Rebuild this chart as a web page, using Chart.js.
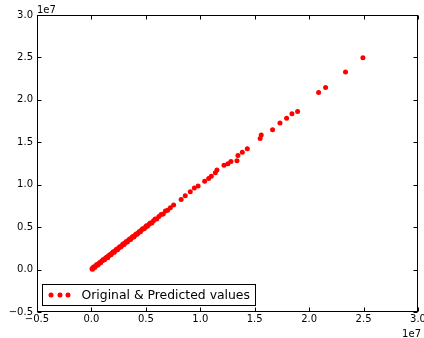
<!DOCTYPE html>
<html><head><meta charset="utf-8">
<script src="https://cdn.jsdelivr.net/npm/chart.js@4/dist/chart.umd.min.js"></script>
<style>html,body{margin:0;padding:0;background:#fff}#wrap{width:424px;height:338px}</style>
</head><body><div id="wrap"><canvas id="c" width="424" height="338"></canvas></div>
<script>
const seriesLabel = 'Original & Predicted values';
const axisMin = -5e6, axisMax = 3e7;
const xTicks = [-5e6, 0, 5e6, 1e7, 1.5e7, 2e7, 2.5e7, 3e7];
const yTicks = [-5e6, 0, 5e6, 1e7, 1.5e7, 2e7, 2.5e7, 3e7];
const tickLabels = ['\u22120.5', '0.0', '0.5', '1.0', '1.5', '2.0', '2.5', '3.0'];
const offsetText = '1e7';
const xValues = [
  0.05e6, 0.1e6, 0.15e6, 0.2e6, 0.3e6, 0.35e6, 0.45e6, 0.5e6, 0.6e6, 0.7e6,
  0.8e6, 0.85e6, 0.95e6, 1.05e6, 1.1e6, 1.2e6, 1.3e6, 1.4e6, 1.5e6, 1.55e6,
  1.65e6, 1.75e6, 1.8e6, 1.9e6, 2.0e6, 2.1e6, 2.2e6, 2.3e6, 2.4e6, 2.5e6,
  2.6e6, 2.7e6, 2.8e6, 2.9e6, 3.0e6, 3.1e6, 3.2e6, 3.3e6, 3.4e6, 3.5e6,
  3.6e6, 3.7e6, 3.8e6, 3.9e6, 4.0e6, 4.1e6, 4.2e6, 4.3e6, 4.4e6, 4.5e6,
  4.6e6, 4.7e6, 4.85e6, 4.95e6, 5.05e6, 5.15e6, 5.3e6, 5.4e6, 5.55e6, 5.7e6,
  5.85e6, 6.0e6, 6.2e6, 6.4e6, 6.6e6, 6.8e6, 7.0e6, 7.25e6,
  7.55e6, 8.24e6, 8.62e6, 9.08e6, 9.45e6, 9.8e6, 10.4e6, 10.77e6, 11.01e6, 11.38e6,
  11.53e6, 12.18e6, 12.54e6, 12.82e6, 13.37e6, 13.46e6, 13.86e6, 14.32e6, 15.5e6, 15.6e6,
  16.64e6, 17.32e6, 17.93e6, 18.42e6, 18.94e6, 20.87e6, 21.51e6, 23.34e6, 24.94e6
];
const yValues = [
  0.1e6, 0.05e6, 0.2e6, 0.3e6, 0.25e6, 0.4e6, 0.5e6, 0.6e6, 0.55e6, 0.75e6,
  0.85e6, 0.8e6, 1.0e6, 1.1e6, 1.2e6, 1.15e6, 1.35e6, 1.45e6, 1.4e6, 1.6e6,
  1.7e6, 1.8e6, 1.75e6, 1.95e6, 2.1e6, 2.05e6, 2.25e6, 2.4e6, 2.35e6, 2.55e6,
  2.7e6, 2.65e6, 2.85e6, 3.0e6, 2.95e6, 3.15e6, 3.3e6, 3.25e6, 3.45e6, 3.6e6,
  3.55e6, 3.75e6, 3.9e6, 3.85e6, 4.05e6, 4.2e6, 4.15e6, 4.35e6, 4.5e6, 4.45e6,
  4.65e6, 4.8e6, 4.8e6, 5.0e6, 5.15e6, 5.1e6, 5.35e6, 5.5e6, 5.5e6, 5.75e6,
  5.95e6, 5.95e6, 6.25e6, 6.5e6, 6.55e6, 6.9e6, 7.0e6, 7.3e6,
  7.6e6, 8.27e6, 8.69e6, 9.17e6, 9.6e6, 9.84e6, 10.4e6, 10.74e6, 11.01e6, 11.4e6,
  11.72e6, 12.28e6, 12.47e6, 12.75e6, 12.82e6, 13.45e6, 13.84e6, 14.23e6, 15.46e6, 15.85e6,
  16.47e6, 17.26e6, 17.82e6, 18.36e6, 18.64e6, 20.88e6, 21.47e6, 23.28e6, 24.97e6
];

const FONT = 'DejaVu Sans';
const tickLabel = (v) => { const i = xTicks.indexOf(v); return i >= 0 ? tickLabels[i] : ''; };

const framePlugin = {
  id: 'frame',
  afterDraw(chart) {
    const ctx = chart.ctx, a = chart.chartArea, xs = chart.scales.x, ys = chart.scales.y;
    ctx.save();
    ctx.strokeStyle = '#000'; ctx.lineWidth = 1;
    const L = Math.round(a.left) + 0.5, R = Math.round(a.right) - 0.5;
    const T = Math.round(a.top) + 0.5, B = Math.round(a.bottom) - 0.5;
    ctx.strokeRect(L, T, R - L, B - T);
    const tl = 4;
    ctx.beginPath();
    xTicks.forEach(v => {
      const px = Math.round(xs.getPixelForValue(v)) + 0.5;
      ctx.moveTo(px, B); ctx.lineTo(px, B - tl);
      ctx.moveTo(px, T); ctx.lineTo(px, T + tl);
    });
    yTicks.forEach(v => {
      const py = Math.round(ys.getPixelForValue(v)) + 0.5;
      ctx.moveTo(L, py); ctx.lineTo(L + tl, py);
      ctx.moveTo(R, py); ctx.lineTo(R - tl, py);
    });
    ctx.stroke();
    // offset texts
    ctx.fillStyle = '#000';
    ctx.font = '10px "' + FONT + '"';
    ctx.textBaseline = 'alphabetic';
    ctx.textAlign = 'left';
    ctx.fillText(offsetText, a.left, a.top - 2);
    ctx.textAlign = 'right';
    ctx.fillText(offsetText, a.right + 3, chart.height - 1.5);
    // legend
    const lx = Math.round(a.left) + 5.5, ly = Math.round(a.bottom) - 27.5;
    const lw = 213, lh = 21;
    ctx.fillStyle = '#fff';
    ctx.fillRect(lx, ly, lw, lh);
    ctx.strokeStyle = '#000';
    ctx.strokeRect(lx, ly, lw, lh);
    const ds = chart.data.datasets[0];
    ctx.fillStyle = ds.backgroundColor;
    [8.5, 17.5, 25.5].forEach(dx => {
      ctx.beginPath(); ctx.arc(lx + dx, ly + lh / 2, 2.5, 0, Math.PI * 2); ctx.fill();
    });
    ctx.fillStyle = '#000';
    ctx.font = '12.4px "' + FONT + '"';
    ctx.textAlign = 'left'; ctx.textBaseline = 'middle';
    ctx.fillText(ds.label, lx + 39, ly + lh / 2 + 0.5);
    ctx.restore();
  }
};

new Chart(document.getElementById('c'), {
  type: 'scatter',
  data: {
    datasets: [{
      label: seriesLabel,
      data: xValues.map((x, i) => ({ x: x, y: yValues[i] })),
      backgroundColor: '#ff0000',
      borderWidth: 0,
      pointRadius: 2.5,
      pointHoverRadius: 2.5
    }]
  },
  options: {
    responsive: false,
    animation: false,
    devicePixelRatio: 1,
    layout: { padding: { top: 15, right: 6, left: 0, bottom: 0 } },
    plugins: { legend: { display: false }, tooltip: { enabled: false } },
    scales: {
      x: {
        type: 'linear', min: axisMin, max: axisMax,
        afterBuildTicks: s => { s.ticks = xTicks.map(v => ({ value: v })); },
        afterFit: s => { s.height = 26; s.paddingLeft = 0; s.paddingRight = 0; },
        grid: { display: false, drawTicks: false },
        border: { display: false },
        ticks: { autoSkip: false, maxRotation: 0, padding: 1, color: '#000',
                 font: { family: FONT, size: 10 }, callback: v => tickLabel(v) }
      },
      y: {
        type: 'linear', min: axisMin, max: axisMax,
        afterBuildTicks: s => { s.ticks = yTicks.map(v => ({ value: v })); },
        afterFit: s => { s.width = 37; s.paddingTop = 0; s.paddingBottom = 0; },
        grid: { display: false, drawTicks: false },
        border: { display: false },
        ticks: { autoSkip: false, padding: 4, color: '#000',
                 font: { family: FONT, size: 10 }, callback: v => tickLabel(v) }
      }
    }
  },
  plugins: [framePlugin]
});
</script>
</body></html>
